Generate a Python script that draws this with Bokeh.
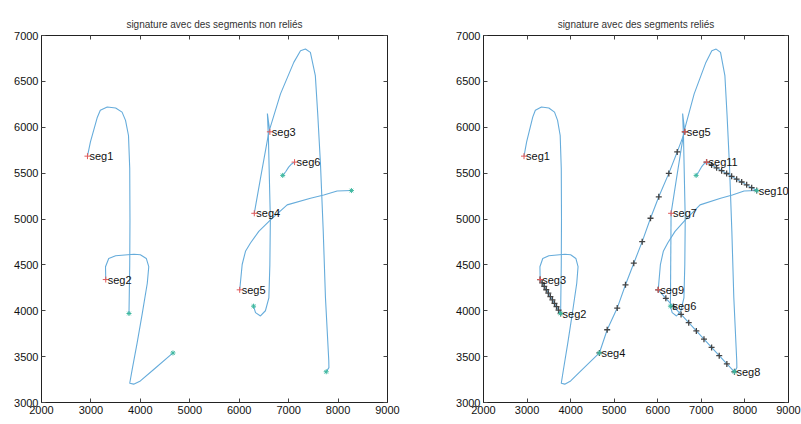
from bokeh.plotting import figure
from bokeh.layouts import row
from bokeh.models import LinearAxis, FixedTicker, Range1d, CustomLabelingPolicy
from bokeh.embed import file_html
from bokeh.resources import INLINE
from bokeh.core.properties import value

# Pen-down strokes of the signature (tablet units)
stroke1_x = [2930, 2990, 3130, 3190, 3330, 3500, 3630, 3700, 3760, 3785, 3790, 3785, 3770]
stroke1_y = [5685, 5840, 6110, 6185, 6220, 6210, 6165, 6075, 5910, 5550, 5000, 4500, 3970]

stroke2_x = [3300, 3295, 3360, 3500, 3870, 4000, 4120, 4170, 4140, 4040, 3935, 3835, 3785, 3865, 4000, 4270, 4660]
stroke2_y = [4340, 4480, 4570, 4600, 4615, 4610, 4570, 4480, 4300, 3975, 3650, 3360, 3210, 3200, 3235, 3360, 3540]

stroke3_x = [6620, 6570, 6590, 6630, 6620, 6600, 6530, 6430, 6330, 6290]
stroke3_y = [5950, 6150, 5900, 5000, 4500, 4140, 4000, 3943, 3980, 4050]

stroke4_x = [6305, 6430, 6600, 6835, 7104, 7240, 7340, 7440, 7540, 7590, 7645, 7700, 7745, 7812, 7815, 7760]
stroke4_y = [5062, 5443, 5950, 6364, 6707, 6834, 6852, 6816, 6563, 6130, 5587, 4865, 4142, 3455, 3380, 3335]

stroke5_x = [6010, 6060, 6127, 6228, 6396, 6633, 6970, 7442, 7711, 7981, 8270]
stroke5_y = [4228, 4504, 4648, 4738, 4865, 4991, 5154, 5226, 5262, 5305, 5310]

stroke6_x = [7120, 7060, 7000, 6940, 6880]
stroke6_y = [5620, 5600, 5565, 5515, 5475]

strokes = [(stroke1_x, stroke1_y), (stroke2_x, stroke2_y), (stroke3_x, stroke3_y),
           (stroke4_x, stroke4_y), (stroke5_x, stroke5_y), (stroke6_x, stroke6_y)]

# Pen-up moves between strokes, sampled points (tablet units)
move1_x = [3770, 3723, 3676, 3629, 3582, 3535, 3488, 3441, 3394, 3347, 3300]
move1_y = [3970, 4007, 4044, 4081, 4118, 4155, 4192, 4229, 4266, 4303, 4340]

move2_x = [4660, 4839, 5069, 5259, 5449, 5642, 5833, 6023, 6253, 6446, 6620]
move2_y = [3540, 3793, 4029, 4283, 4518, 4753, 5008, 5242, 5497, 5731, 5950]

move3_x = [6290, 6305]
move3_y = [4050, 5062]

move4_x = [7760, 7585, 7410, 7235, 7060, 6885, 6710, 6535, 6360, 6185, 6010]
move4_y = [3335, 3420, 3510, 3600, 3690, 3780, 3870, 3960, 4045, 4135, 4228]

move5_x = [8270, 8155, 8040, 7925, 7810, 7695, 7580, 7465, 7350, 7235, 7120]
move5_y = [5310, 5341, 5372, 5403, 5434, 5465, 5496, 5527, 5558, 5589, 5620]

x_ticks = [2000, 3000, 4000, 5000, 6000, 7000, 8000, 9000]
y_ticks = [3000, 3500, 4000, 4500, 5000, 5500, 6000, 6500, 7000]

left_labels = ["seg1", "seg2", "seg3", "seg4", "seg5", "seg6"]
right_labels = ["seg1", "seg2", "seg3", "seg4", "seg5", "seg6",
                "seg7", "seg8", "seg9", "seg10", "seg11"]

STROKE = "#66acdb"
FONT = "Liberation Sans"


def tick_only_axis(ticks):
    # box edge with inward ticks and no labels
    return LinearAxis(ticker=FixedTicker(ticks=ticks),
                      major_label_overrides={t: "" for t in ticks},
                      major_label_text_font_size="1px",
                      major_label_policy=CustomLabelingPolicy(
                          code="for (const i of indices) { indices.unset(i) } return indices"),
                      major_tick_in=4, major_tick_out=0, minor_tick_line_color=None,
                      axis_line_color="#222222", major_tick_line_color="#444444",
                      major_label_standoff=0)


def make_axes(title, width, b_left, b_right, b_top, b_bottom):
    p = figure(width=width, height=424, output_backend="svg", toolbar_location=None,
               x_range=Range1d(2000, 9000), y_range=Range1d(3000, 7000),
               min_border_left=b_left, min_border_right=b_right,
               min_border_top=b_top, min_border_bottom=b_bottom,
               title=title)
    p.title.text_font = FONT
    p.title.text_font_size = "10px"
    p.title.text_font_style = "normal"
    p.title.text_color = "#333333"
    p.title.align = "center"
    p.title.vertical_align = "middle"
    p.grid.visible = False
    p.outline_line_color = "#222222"
    p.background_fill_color = "white"
    p.border_fill_color = "white"
    for ax in p.xaxis:
        ax.ticker = FixedTicker(ticks=x_ticks)
    for ax in p.yaxis:
        ax.ticker = FixedTicker(ticks=y_ticks)
    for ax in p.xaxis + p.yaxis:
        ax.major_tick_in = 4
        ax.major_tick_out = 0
        ax.minor_tick_line_color = None
        ax.axis_line_color = "#222222"
        ax.major_tick_line_color = "#444444"
        ax.major_label_text_font = FONT
        ax.major_label_text_font_size = "11px"
        ax.major_label_text_color = "#111111"
        ax.major_label_standoff = 3
    p.add_layout(tick_only_axis(x_ticks), "above")
    p.add_layout(tick_only_axis(y_ticks), "right")
    return p


def seg_labels(p, xs, ys, names):
    p.text(x=xs, y=ys, text=names, x_offset=2, text_baseline="middle", text_align="left",
           text_font=value(FONT), text_font_size="11px", text_color="#111111")


# ---- strokes drawn separately ----
p1 = make_axes("signature avec des segments non reliés", 430, 41, 43, 33, 22)
for sx, sy in strokes:
    p1.line(sx, sy, line_color=STROKE, line_width=1.1)
starts_x = [s[0][0] for s in strokes]
starts_y = [s[1][0] for s in strokes]
ends_x = [s[0][-1] for s in strokes]
ends_y = [s[1][-1] for s in strokes]
p1.scatter(ends_x, ends_y, marker="asterisk", size=5, line_color="#3fb8a0", line_width=1)
p1.scatter(starts_x, starts_y, marker="cross", size=6, line_color="#e05a5a", line_width=1)
seg_labels(p1, starts_x, starts_y, left_labels)

# ---- strokes joined by pen-up moves ----
p2 = make_axes("signature avec des segments reliés", 371, 53, 13, 35, 21)
for sx, sy in strokes:
    p2.line(sx, sy, line_color=STROKE, line_width=1.1)
moves = [(move1_x, move1_y), (move2_x, move2_y), (move4_x, move4_y), (move5_x, move5_y)]
p2.line(move3_x, move3_y, line_color=STROKE, line_width=1.1)
for mx, my in moves:
    p2.line(mx, my, line_color=STROKE, line_width=1.1)
    p2.scatter(mx, my, marker="cross", size=6, line_color="#444444", line_width=1.3)
p2.scatter(ends_x, ends_y, marker="asterisk", size=5, line_color="#3fb8a0", line_width=1)
p2.scatter(starts_x, starts_y, marker="cross", size=6, line_color="#e05a5a", line_width=1)
lab_x, lab_y = [], []
for i, (sx, sy) in enumerate(strokes):
    lab_x.append(sx[0])
    lab_y.append(sy[0])
    if i < len(strokes) - 1:
        lab_x.append(sx[-1])
        lab_y.append(sy[-1])
seg_labels(p2, lab_x, lab_y, right_labels)

layout = row(p1, p2, spacing=0)
open("out.html", "w").write(file_html(layout, INLINE))
